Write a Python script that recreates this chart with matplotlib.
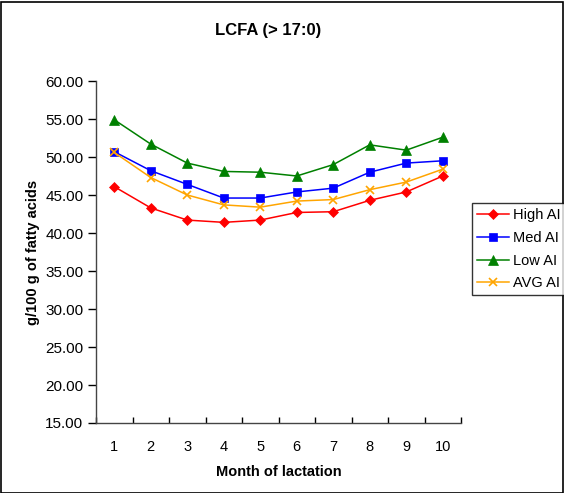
import matplotlib
matplotlib.use("Agg")
import matplotlib.pyplot as plt
from matplotlib.patches import Rectangle

plt.rcParams['font.family'] = ['Liberation Sans', 'DejaVu Sans']

months = [1, 2, 3, 4, 5, 6, 7, 8, 9, 10]
high_ai = [46.1, 43.3, 41.7, 41.4, 41.7, 42.7, 42.8, 44.3, 45.4, 47.5]
med_ai = [50.7, 48.2, 46.4, 44.6, 44.6, 45.4, 45.9, 48.0, 49.2, 49.5]
low_ai = [54.9, 51.7, 49.2, 48.1, 48.0, 47.5, 49.0, 51.6, 50.9, 52.6]
avg_ai = [50.6, 47.3, 45.0, 43.7, 43.4, 44.2, 44.4, 45.7, 46.7, 48.4]

series = [
    ("High AI", high_ai, "#ff0000", "D", 5),
    ("Med AI", med_ai, "#0000ff", "s", 5.5),
    ("Low AI", low_ai, "#008000", "^", 6.5),
    ("AVG AI", avg_ai, "#ffa500", "x", 6),
]

fig = plt.figure(figsize=(5.64, 4.93), dpi=100)
fig.patches.append(Rectangle((0.5 / 564, 0.5 / 493), 1 - 2 / 564, 1 - 2 / 493,
                             transform=fig.transFigure, fill=False,
                             edgecolor='black', linewidth=1.2))

ax = fig.add_axes([96 / 564, 1 - 423 / 493, (461 - 96) / 564, (423 - 81) / 493])

handles = []
for name, vals, color, marker, ms in series:
    h, = ax.plot(months, vals, color=color, marker=marker, markersize=ms,
                 linewidth=1.1, label=name, markeredgewidth=1.2 if marker == 'x' else 0.5,
                 markeredgecolor=color)
    handles.append(h)

ax.set_xlim(0.5, 10.5)
ax.set_ylim(15, 60)
ax.set_yticks([15 + 5 * i for i in range(10)])
ax.set_yticklabels([f"{15 + 5 * i:.2f}" for i in range(10)], fontsize=11)
ax.set_xticks([m + 0.5 for m in months[:-1]] + [0.5, 10.5])
ax.set_xticklabels([])
ax.set_xticks(months, minor=True)
ax.set_xticklabels([str(m) for m in months], minor=True, fontsize=10.5)
ax.tick_params(axis='x', which='minor', length=0, pad=12)
ax.tick_params(axis='x', which='major', direction='in', length=4, width=1)
ax.tick_params(axis='y', direction='out', length=6, width=1, pad=3)

for side in ('top', 'right'):
    ax.spines[side].set_visible(False)
for side in ('left', 'bottom'):
    ax.spines[side].set_color('#444444')
    ax.spines[side].set_linewidth(1)

fig.text(268 / 564, 1 - 31 / 493, "LCFA (> 17:0)", fontsize=12, fontweight='bold',
         ha='center', va='center')
ax.set_xlabel("Month of lactation", fontsize=10.5, fontweight='bold', labelpad=8)
ax.set_ylabel("g/100 g of fatty acids", fontsize=10.5, fontweight='bold', labelpad=4)

leg = fig.legend(handles=handles, loc='upper left',
                 bbox_to_anchor=(472 / 564, 1 - 203 / 493), fontsize=10.5,
                 frameon=True, fancybox=False, edgecolor='black',
                 handlelength=2.2, borderpad=0.35, labelspacing=0.6,
                 handletextpad=0.25, borderaxespad=0)
leg.get_frame().set_linewidth(1)

fig.savefig("out.png", dpi=100)
